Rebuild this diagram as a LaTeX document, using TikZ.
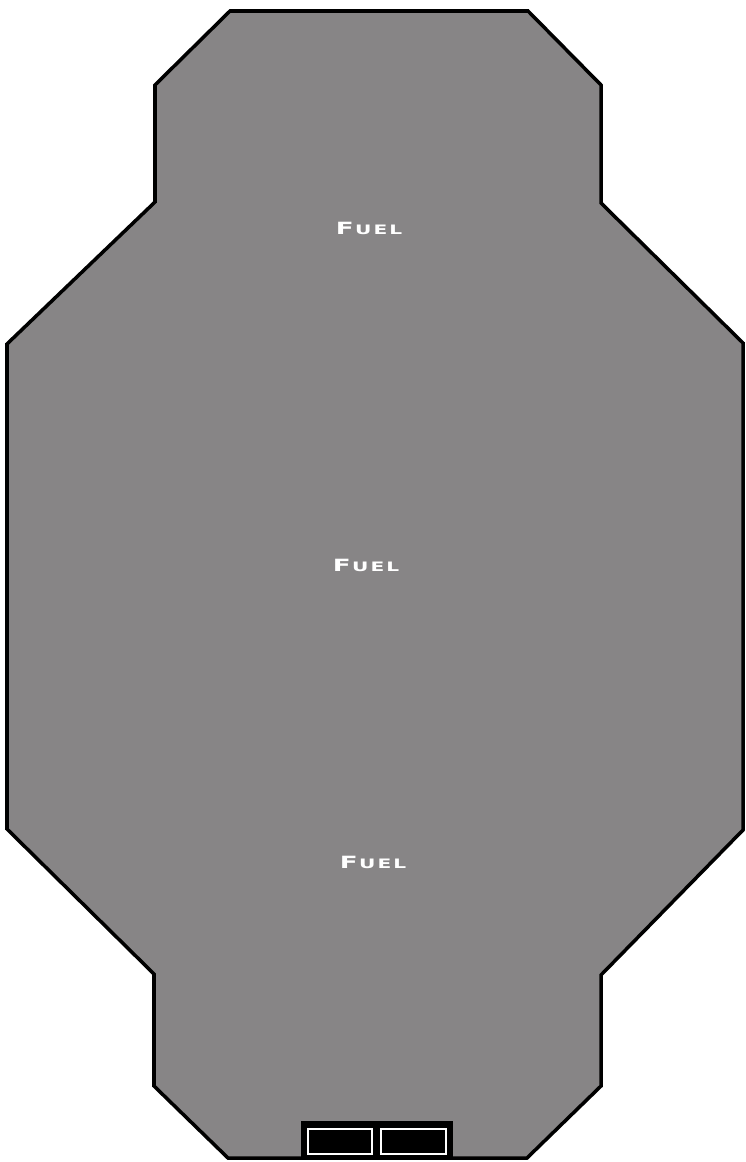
\documentclass[tikz,border=0pt]{standalone}
\usepackage{fontspec}
\usepackage{xcolor}
\definecolor{tankgray}{RGB}{135,133,134}
\newfontfamily\fuelfont[FakeStretch=1.55]{DejaVu Sans}
\usetikzlibrary{calc}
\tikzset{
  hull/.style={draw=black, fill=tankgray, line width=2pt, line join=miter},
  fuellabel/.style={text=white, font=\fuelfont\bfseries, inner sep=0pt},
  hatchframe/.style={fill=black},
  hatchbox/.style={draw=white, fill=black, line width=1.4pt},
}
\newcommand{\fuelsc}{{\fontsize{9.6}{9.6}\selectfont F}\kern0.8pt{\fontsize{7.4}{7.4}\selectfont U\kern1.2pt E\kern1.2pt L}}

\begin{document}
\begin{tikzpicture}[x=0.02cm, y=-0.02cm]
  \useasboundingbox (0,0) rectangle (745,1162);

  % Tank outline
  \draw[hull] (230,11) -- (528,11) -- (601,85) -- (601,203) -- (743,343)
    -- (743,830) -- (601,975) -- (601,1086) -- (527,1158) -- (228,1158)
    -- (154,1086) -- (154,974) -- (7,829) -- (7,344) -- (155,202)
    -- (155,85) -- cycle;

  % Fuel labels
  \node[fuellabel] (fueltop) at (369,228) {\fuelsc};
  \node[fuellabel] (fuelmid) at (366,565) {\fuelsc};
  \node[fuellabel] (fuellow) at (373,862) {\fuelsc};

  % Hatch at the bottom
  \fill[hatchframe] (301,1121) rectangle (453,1160);
  \draw[hatchbox] (308,1129) rectangle (372,1154);
  \draw[hatchbox] (381,1129) rectangle (446,1154);
\end{tikzpicture}
\end{document}
